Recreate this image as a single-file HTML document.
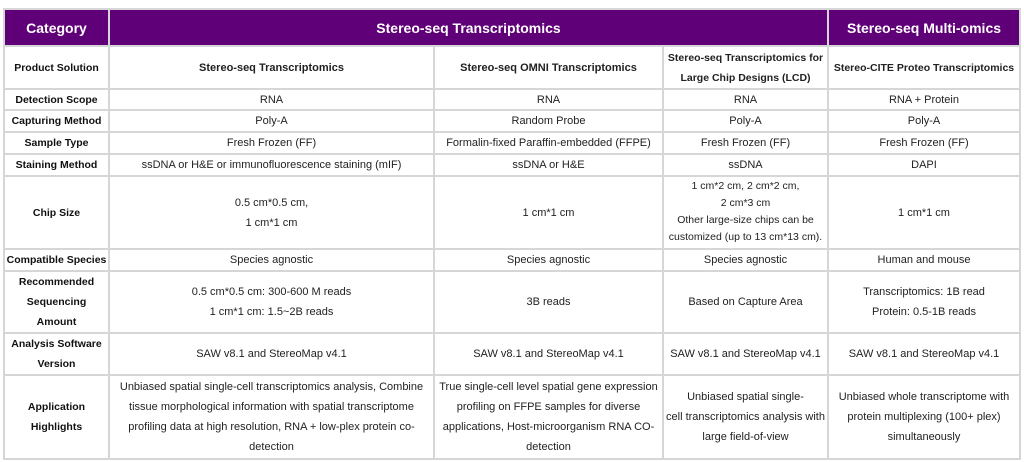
<!DOCTYPE html>
<html><head><meta charset="utf-8"><style>
html,body{margin:0;padding:0;background:#fff;width:1024px;height:462px;overflow:hidden;font-family:"Liberation Sans",Arial,sans-serif;}
#t{position:absolute;left:3px;top:8px;width:1018px;height:452px;background:#d6d6d6;}
.c{position:absolute;background:#fff;display:flex;align-items:center;justify-content:center;text-align:center;font-size:11px;line-height:20px;color:#222;box-sizing:border-box;padding:0 2px;overflow:hidden;}
.h{background:#5f0078;color:#fff;font-weight:bold;font-size:14px;}
.b{font-weight:bold;color:#111;font-size:10.5px;white-space:nowrap;padding:0;}
</style></head><body>
<div id="t"></div>
<script>
var X=[3,108,433,662,827,1019],Y=[8,45,88,109,131,153,175,248,270,332,374,458];
function cell(c0,c1,r,html,cls){var d=document.createElement('div');d.className='c '+(cls||'');
d.style.left=(X[c0]+2)+'px';d.style.top=(Y[r]+2)+'px';d.style.width=(X[c1]-X[c0]-2)+'px';d.style.height=(Y[r+1]-Y[r]-2)+'px';d.innerHTML='<div>'+html+'</div>';document.body.appendChild(d);}
cell(0,1,0,'Category','h');cell(1,4,0,'Stereo-seq Transcriptomics','h');cell(4,5,0,'Stereo-seq Multi-omics','h');
var rows=[
['Product Solution','<b>Stereo-seq Transcriptomics</b>','<b>Stereo-seq OMNI Transcriptomics</b>','<b style="font-size:10.5px">Stereo-seq Transcriptomics for<br>Large Chip Designs (LCD)</b>','<b style="font-size:10.5px">Stereo-CITE Proteo Transcriptomics</b>'],
['Detection Scope','RNA','RNA','RNA','RNA + Protein'],
['Capturing Method','Poly-A','Random Probe','Poly-A','Poly-A'],
['Sample Type','Fresh Frozen (FF)','Formalin-fixed Paraffin-embedded (FFPE)','Fresh Frozen (FF)','Fresh Frozen (FF)'],
['Staining Method','ssDNA or H&amp;E or immunofluorescence staining (mIF)','ssDNA or H&amp;E','ssDNA','DAPI'],
['Chip Size','0.5 cm*0.5 cm,<br>1 cm*1 cm','1 cm*1 cm','<span style="line-height:17px;display:inline-block;font-size:10.5px">1 cm*2 cm, 2 cm*2 cm,<br>2 cm*3 cm<br>Other large-size chips can be<br>customized (up to 13 cm*13 cm).</span>','1 cm*1 cm'],
['Compatible Species','Species agnostic','Species agnostic','Species agnostic','Human and mouse'],
['Recommended<br>Sequencing<br>Amount','0.5 cm*0.5 cm: 300-600 M reads<br>1 cm*1 cm: 1.5~2B reads','3B reads','Based on Capture Area','Transcriptomics: 1B read<br>Protein: 0.5-1B reads'],
['Analysis Software<br>Version','SAW v8.1 and StereoMap v4.1','SAW v8.1 and StereoMap v4.1','SAW v8.1 and StereoMap v4.1','SAW v8.1 and StereoMap v4.1'],
['Application<br>Highlights','Unbiased spatial single-cell transcriptomics analysis, Combine<br>tissue morphological information with spatial transcriptome<br>profiling data at high resolution, RNA + low-plex protein co-<br>detection','True single-cell level spatial gene expression<br>profiling on FFPE samples for diverse<br>applications, Host-microorganism RNA CO-<br>detection','Unbiased spatial single-<br>cell transcriptomics analysis with<br>large field-of-view','Unbiased whole transcriptome with<br>protein multiplexing (100+ plex)<br>simultaneously']
];
rows.forEach(function(r,i){cell(0,1,i+1,r[0],'b');for(var j=1;j<5;j++)cell(j,j+1,i+1,r[j]);});
</script>
</body></html>
